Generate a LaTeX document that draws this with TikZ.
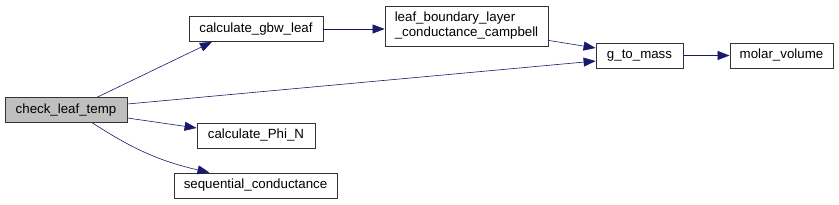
\documentclass[tikz,border=0pt]{standalone}
\usepackage{fontspec}
\setmainfont{Liberation Sans}
\usetikzlibrary{arrows.meta}
\definecolor{edgeblue}{RGB}{25,25,112}
\tikzset{
	fn/.style={draw=black!80,thick,fill=white,inner sep=0pt,minimum height=25pt,font=\fontsize{13.3}{15}\selectfont},
	call/.style={draw=edgeblue,semithick,-{Triangle[length=12pt,width=9pt]}}
}
\begin{document}
\begin{tikzpicture}[x=1pt,y=-1pt]
	\useasboundingbox (0,0) rectangle (839,205);
	\node[fn,fill=black!25,minimum width=122pt] (check) at (66,110) {check\_leaf\_temp};
	\node[fn,minimum width=134pt] (gbw) at (256,29) {calculate\_gbw\_leaf};
	\node[fn,minimum width=163pt,minimum height=40pt,align=left] (campbell) at (466.5,26)
	{leaf\_boundary\_layer\\\_conductance\_campbell};
	\node[fn,minimum width=87pt] (mass) at (639.5,55.5) {g\_to\_mass};
	\node[fn,minimum width=103pt] (molar) at (781.5,55.5) {molar\_volume};
	\node[fn,minimum width=118pt] (phi) at (256,135.5) {calculate\_Phi\_N};
	\node[fn,minimum width=163pt] (seq) at (255.5,185.5) {sequential\_conductance};
	\draw[call] ([xshift=-30pt]check.north east) -- ([xshift=-44pt]gbw.south);
	\draw[call] ([yshift=6pt]check.east) -- ([yshift=-5.5pt]mass.west);
	\draw[call] ([yshift=-8pt]check.east) -- ([yshift=7.5pt]phi.west);
	\draw[call] ([xshift=-35pt]check.south east) to[bend right=10] ([xshift=-46pt]seq.north);
	\draw[call] (gbw) -- (campbell.west|-gbw);
	\draw[call] ([yshift=6pt]campbell.south east) -- ([yshift=7.5pt]mass.west);
	\draw[call] (mass) -- (molar);
\end{tikzpicture}
\end{document}
